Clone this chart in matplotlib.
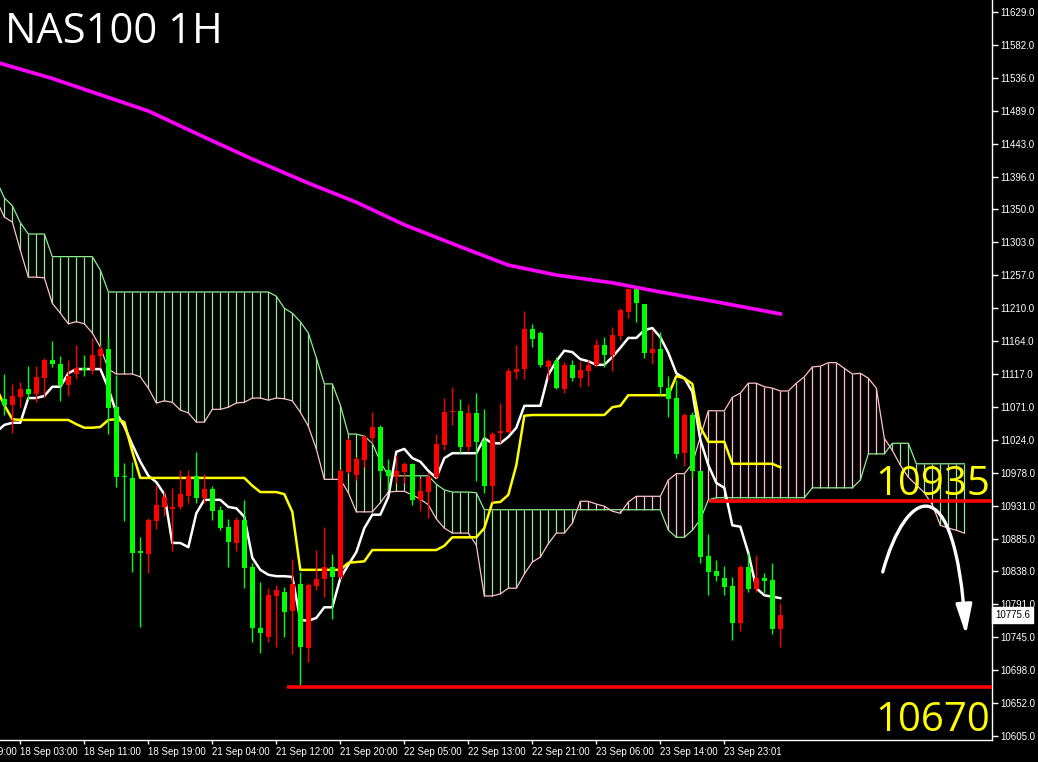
import numpy as np
import matplotlib
matplotlib.use("Agg")
import matplotlib.pyplot as plt
from matplotlib.path import Path
from matplotlib.patches import FancyArrowPatch
import matplotlib.transforms as mtransforms

# ---------------- data ----------------
title = "NAS100 1H"
first_candle = -2          # bar index of first candle (bar 0 = 18 Sep 03:00)
opens = [11082, 11073, 11084, 11096, 11089, 11111, 11137, 11131, 11101, 11117,
         11125, 11123, 11142, 11152, 11070, 10973, 10970, 10865, 10862, 10909,
         10929, 10926, 10929, 10944, 10973, 10942, 10954, 10925, 10901, 10878,
         10911, 10844, 10758, 10745, 10803, 10809, 10782, 10820, 10730, 10817,
         10827, 10844, 10830, 10979, 10974, 10995, 11026, 11042, 10981, 10971,
         10979, 10990, 10939, 10950, 10971, 11016, 11063, 11065, 11014, 11062,
         11022, 10959, 11033, 11035, 11120, 11124, 11181, 11175, 11127, 11135,
         11096, 11130, 11111, 11121, 11130, 11158, 11144, 11171, 11205, 11237,
         11216, 11147, 11152, 11097, 11083, 11005, 11059, 10980, 10860, 10838,
         10828, 10817, 10765, 10844, 10813, 10828, 10826, 10756]
highs = [11117, 11103, 11106, 11128, 11128, 11140, 11164, 11142, 11137, 11158,
         11144, 11168, 11158, 11169, 11116, 10991, 10993, 10886, 10913, 10960,
         10951, 10956, 10981, 10981, 11007, 10976, 10959, 10930, 10912, 10915,
         10939, 10850, 10823, 10814, 10819, 10816, 10855, 10837, 10821, 10868,
         10901, 10862, 10983, 11026, 11000, 11032, 11063, 11045, 10997, 11002,
         10993, 10991, 10970, 10977, 11032, 11083, 11099, 11082, 11075, 11090,
         11067, 11035, 11076, 11125, 11158, 11206, 11188, 11178, 11138, 11141,
         11134, 11137, 11135, 11137, 11167, 11169, 11184, 11210, 11239, 11239,
         11216, 11179, 11176, 11114, 11109, 11062, 11063, 10980, 10891, 10854,
         10845, 10830, 10847, 10864, 10861, 10836, 10850, 10793]
lows = [11059, 11034, 11070, 11080, 11077, 11084, 11127, 11079, 11086, 11110,
        11114, 11117, 11125, 11032, 10957, 10909, 10837, 10759, 10836, 10898,
        10916, 10867, 10926, 10935, 10935, 10935, 10911, 10896, 10844, 10867,
        10814, 10738, 10722, 10738, 10731, 10745, 10721, 10677, 10710, 10812,
        10802, 10771, 10827, 10977, 10967, 10986, 11019, 10970, 10953, 10963,
        10963, 10932, 10923, 10913, 10970, 11009, 11045, 11005, 11008, 10966,
        10949, 10936, 11019, 11034, 11110, 11110, 11155, 11127, 11109, 11096,
        11090, 11107, 11099, 11100, 11128, 11127, 11121, 11165, 11196, 11191,
        11140, 11131, 11087, 11056, 10998, 10987, 10971, 10850, 10804, 10824,
        10804, 10741, 10754, 10809, 10809, 10807, 10749, 10731]
closes = [11073, 11086, 11096, 11089, 11113, 11137, 11131, 11101, 11114, 11125,
          11123, 11144, 11152, 11069, 10971, 10971, 10864, 10864, 10911, 10932,
          10943, 10929, 10947, 10973, 10942, 10954, 10923, 10899, 10879, 10911,
          10843, 10758, 10751, 10804, 10812, 10780, 10820, 10731, 10819, 10827,
          10844, 10830, 10980, 11024, 10997, 11028, 11042, 10980, 10973, 10980,
          10990, 10939, 10951, 10971, 11018, 11063, 11065, 11014, 11062, 11021,
          10959, 11032, 11036, 11121, 11124, 11181, 11167, 11130, 11135, 11097,
          11130, 11111, 11123, 11130, 11158, 11144, 11172, 11208, 11237, 11217,
          11147, 11152, 11099, 11082, 11004, 11059, 10980, 10858, 10837, 10831,
          10816, 10765, 10844, 10813, 10828, 10824, 10756, 10775.6]

first_line = -3            # bar index of first tenkan / kijun / cloud value
tenkan = [11035, 11045, 11048, 11048, 11083, 11083, 11086, 11099, 11099, 11118,
          11124, 11124, 11124, 11124, 11097, 11062, 11043, 11017, 10993, 10973,
          10964, 10947, 10878, 10878, 10872, 10920, 10939, 10939, 10939, 10929,
          10927, 10915, 10857, 10840, 10833, 10831, 10831, 10830, 10769, 10768,
          10772, 10787, 10787, 10828, 10847, 10865, 10899, 10918, 10918, 10943,
          11007, 11011, 10998, 10993, 10980, 10970, 10998, 11005, 11005, 11005,
          11005, 11026, 11019, 11019, 11028, 11041, 11072, 11072, 11072, 11116,
          11135, 11150, 11148, 11138, 11135, 11130, 11130, 11141, 11154, 11168,
          11168, 11179, 11182, 11169, 11147, 11118, 11111, 11092, 11024, 10988,
          10963, 10956, 10903, 10901, 10864, 10814, 10804, 10802, 10800]
kijun = [11097, 11073, 11053, 11052, 11052, 11052, 11052, 11052, 11052, 11052,
         11046, 11041, 11041, 11042, 11052, 11053, 11049, 11007, 10970, 10970,
         10970, 10970, 10970, 10970, 10970, 10970, 10970, 10970, 10970, 10970,
         10970, 10970, 10959, 10950, 10950, 10950, 10947, 10922, 10840, 10840,
         10840, 10840, 10840, 10840, 10850, 10851, 10852, 10868, 10868, 10868,
         10868, 10868, 10868, 10868, 10868, 10868, 10874, 10886, 10886, 10886,
         10886, 10899, 10935, 10936, 10946, 10988, 11058, 11059, 11059, 11059,
         11059, 11059, 11059, 11059, 11059, 11059, 11059, 11070, 11072, 11087,
         11087, 11087, 11087, 11087, 11087, 11114, 11111, 11103, 11042, 11021,
         11021, 11021, 10990, 10990, 10990, 10990, 10990, 10990, 10985]
span_a = [11391, 11366, 11355, 11331, 11315, 11315, 11315, 11283, 11283, 11283,
          11283, 11283, 11283, 11264, 11233, 11233, 11233, 11233, 11233, 11233,
          11233, 11233, 11233, 11233, 11233, 11233, 11233, 11233, 11233, 11233,
          11233, 11233, 11233, 11233, 11233, 11227, 11210, 11203, 11191, 11175,
          11140, 11103, 11103, 11073, 11032, 11032, 11029, 11019, 10993, 10973,
          10973, 10973, 10973, 10973, 10973, 10961, 10953, 10950, 10950, 10950,
          10949, 10925, 10925, 10925, 10925, 10925, 10925, 10925, 10925, 10925,
          10925, 10925, 10925, 10925, 10925, 10925, 10925, 10925, 10925, 10925,
          10925, 10925, 10925, 10925, 10896, 10886, 10886, 10896, 10911, 10939,
          10942, 10942, 10942, 10942, 10942, 10942, 10942, 10942, 10942, 10942,
          10942, 10942, 10956, 10956, 10956, 10956, 10956, 10956, 10967, 11004,
          11004, 11004, 11019, 11019, 11019, 10990, 10990, 10990, 10990, 10990,
          10990, 10990]
span_b = [11363, 11339, 11332, 11292, 11254, 11254, 11253, 11217, 11203, 11188,
          11191, 11188, 11175, 11155, 11124, 11117, 11117, 11117, 11113, 11097,
          11076, 11079, 11077, 11066, 11062, 11049, 11049, 11067, 11067, 11070,
          11076, 11077, 11083, 11083, 11080, 11083, 11082, 11079, 11063, 11043,
          11011, 10968, 10968, 10968, 10949, 10922, 10922, 10922, 10935, 10950,
          10951, 10951, 10946, 10940, 10932, 10912, 10899, 10892, 10892, 10892,
          10875, 10803, 10803, 10806, 10814, 10814, 10834, 10851, 10858, 10877,
          10892, 10892, 10906, 10937, 10937, 10933, 10930, 10923, 10920, 10936,
          10944, 10944, 10944, 10944, 10967, 10976, 10976, 10990, 11028, 11065,
          11065, 11065, 11084, 11090, 11104, 11104, 11099, 11097, 11093, 11093,
          11104, 11113, 11127, 11128, 11133, 11133, 11125, 11117, 11118, 11111,
          11097, 11026, 11009, 10988, 10971, 10960, 10949, 10932, 10903, 10899,
          10896, 10892]

ma_bars = [-3, 4, 10, 16, 23, 29, 36, 42, 48, 55, 61, 67, 74, 80, 87, 95]
ma_vals = [11558, 11535, 11512, 11489, 11452, 11421, 11387, 11360, 11328, 11297,
           11271, 11257, 11246, 11233, 11219, 11202]

date_bars = [-8, 0, 8, 16, 24, 32, 40, 48, 56, 64, 72, 80, 88]
date_labels = ["17 Sep 19:00", "18 Sep 03:00", "18 Sep 11:00", "18 Sep 19:00",
               "21 Sep 04:00", "21 Sep 12:00", "21 Sep 20:00", "22 Sep 05:00",
               "22 Sep 13:00", "22 Sep 21:00", "23 Sep 06:00", "23 Sep 14:00",
               "23 Sep 23:01"]
price_labels = ["10605.0", "10652.0", "10698.0", "10745.0", "10791.0", "10838.0",
                "10885.0", "10931.0", "10978.0", "11024.0", "11071.0", "11117.0",
                "11164.0", "11210.0", "11257.0", "11303.0", "11350.0", "11396.0",
                "11443.0", "11489.0", "11536.0", "11582.0", "11629.0"]
last_price = 10775.6

level_hi, level_hi_label, level_hi_start = 10938, "10935", 86.1
level_lo, level_lo_label, level_lo_start = 10674, "10670", 33.3

# ---------------- figure ----------------
W, H = 1038, 762
XMIN, XMAX = -2.54, 121.46
fig = plt.figure(figsize=(W / 100, H / 100), dpi=100, facecolor="black")
ax = fig.add_axes([0, 22 / H, 992 / W, 740 / H])
ax.set_facecolor("black")

RED = "#ff0000"
LIME = "#00ff00"
CLOUD_G = "#90ee90"
CLOUD_P = "#ffc0cb"

# cloud
xl = np.arange(first_line, first_line + len(span_a))
A = np.array(span_a, float)
B = np.array(span_b, float)
hatch_cols = [CLOUD_G if a >= b else CLOUD_P for a, b in zip(A, B)]
ax.vlines(xl, np.minimum(A, B), np.maximum(A, B), colors=hatch_cols, lw=0.9, zorder=1)
ax.plot(xl, A, color=CLOUD_G, lw=0.9, zorder=1.5)
ax.plot(xl, B, color=CLOUD_P, lw=0.9, zorder=1.5)

# tenkan / kijun
xt = np.arange(first_line, first_line + len(tenkan))
ax.plot(xt, tenkan, color="white", lw=1.8, zorder=3)
ax.plot(np.arange(first_line, first_line + len(kijun)), kijun, color="#ffff00",
        lw=1.8, zorder=3)

# candles
o = np.array(opens, float); c = np.array(closes, float)
h = np.array(highs, float); l = np.array(lows, float)
xc = np.arange(first_candle, first_candle + len(o))
cols = np.where(c >= o, RED, LIME)
ax.vlines(xc, l, h, colors=cols, lw=1.0, zorder=4)
ax.bar(xc, np.maximum(np.abs(c - o), 2.0), bottom=np.minimum(o, c), width=0.62,
       color=cols, linewidth=0, zorder=4.5)

# moving average
ax.plot(ma_bars, ma_vals, color="#ff00ff", lw=2.6, zorder=5)

# levels
ax.hlines([level_hi], level_hi_start, XMAX, colors=RED, lw=2.6, zorder=6)
ax.hlines([level_lo], level_lo_start, XMAX, colors=RED, lw=2.6, zorder=6)
ax.text(121.2, 10946, level_hi_label, color="#ffff00", fontsize=29,
        family="Open Sans", ha="right", va="baseline", zorder=8)
ax.text(121.2, 10612, level_lo_label, color="#ffff00", fontsize=29,
        family="Open Sans", ha="right", va="baseline", zorder=8)

# curved arrow (bar index, price)
arrow_pts = [(107.8, 10837), (110.6, 10953), (116.8, 10995), (118.2, 10748)]
path = Path(arrow_pts, [Path.MOVETO, Path.CURVE4, Path.CURVE4, Path.CURVE4])
arr = FancyArrowPatch(path=path, arrowstyle="-|>,head_length=1.3,head_width=0.35",
                      mutation_scale=14, color="white", lw=2.4, zorder=9)
ax.add_patch(arr)

# axes styling
for s in ["left", "top"]:
    ax.spines[s].set_visible(False)
for s in ["right", "bottom"]:
    ax.spines[s].set_color("white")
    ax.spines[s].set_linewidth(1.0)

ax.yaxis.tick_right()
ytick_pos = np.linspace(10605, 11629, len(price_labels))
ax.set_yticks(ytick_pos)
ax.set_yticklabels(price_labels)
ax.tick_params(axis="y", colors="white", length=4, width=1, pad=2,
               labelsize=7, direction="out")
ax.set_xticks(date_bars)
ax.set_xticklabels(date_labels, ha="left")
ax.tick_params(axis="x", colors="white", length=3, width=1, pad=2,
               labelsize=7, direction="out")
for lab in ax.get_xticklabels() + ax.get_yticklabels():
    lab.set_family("Liberation Sans")
    lab.set_color("white")

ax.set_xlim(XMIN, XMAX)
ax.set_ylim(10599.3, 11646.0)

# partially visible first date label (its tick lies left of the view, as in the reference)
trans_x = mtransforms.blended_transform_factory(ax.transData, ax.transAxes)
lab0 = ax.text(date_bars[0] + 0.3, 0, date_labels[0], color="white", fontsize=7,
               family="Liberation Sans", ha="left", va="top", clip_on=False)
lab0.set_transform(trans_x + mtransforms.ScaledTranslation(0, -5 / 72, fig.dpi_scale_trans))

# current price box
trans = mtransforms.blended_transform_factory(ax.transAxes, ax.transData)
ax.text(1.003, last_price, f"{last_price:.1f}", transform=trans, color="black",
        fontsize=7, family="Liberation Sans", ha="left", va="center", zorder=10,
        clip_on=False,
        bbox=dict(boxstyle="square,pad=0.3", fc="white", ec="white"))

# title
fig.text(5 / W, 1 - 43 / H, title, color="white", fontsize=30,
         family="Open Sans", ha="left", va="baseline")

fig.savefig("out.png", dpi=100, facecolor="black")
